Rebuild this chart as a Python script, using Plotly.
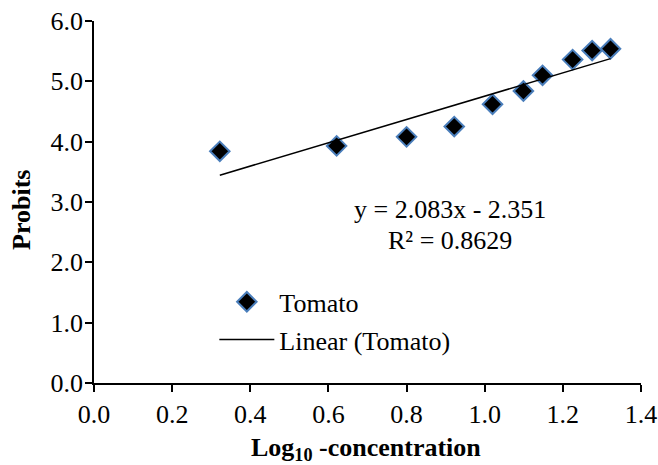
import numpy as np
import plotly.graph_objects as go

# Data
log_conc = [0.322, 0.621, 0.800, 0.922, 1.020, 1.099, 1.148, 1.225, 1.275, 1.322]
probits = [3.84, 3.93, 4.08, 4.25, 4.62, 4.84, 5.10, 5.36, 5.51, 5.54]
x_ticks = [0.0, 0.2, 0.4, 0.6, 0.8, 1.0, 1.2, 1.4]
y_ticks = [0.0, 1.0, 2.0, 3.0, 4.0, 5.0, 6.0]
eq_text = "y = 2.083x - 2.351"
r2_text = "R² = 0.8629"

FONT = "Liberation Serif, Times New Roman, serif"
FS = 26

slope, intercept = np.polyfit(log_conc, probits, 1)
trend_x = [min(log_conc), max(log_conc)]
trend_y = [slope * v + intercept for v in trend_x]

fig = go.Figure()
fig.add_trace(go.Scatter(
    x=log_conc, y=probits, mode="markers", name="Tomato",
    legendgroup="a",
    marker=dict(symbol="diamond", size=15, color="black",
                line=dict(color="#4a7ebb", width=2)),
))
fig.add_trace(go.Scatter(
    x=trend_x, y=trend_y, mode="lines", name="Linear (Tomato)",
    legendgroup="b",
    line=dict(color="black", width=1.5),
))

fig.update_layout(
    width=658, height=465,
    margin=dict(l=94, r=17, t=21, b=82, autoexpand=False),
    paper_bgcolor="white", plot_bgcolor="white",
    font=dict(family=FONT, size=FS, color="black"),
    showlegend=True,
    legend=dict(x=0.22, y=0.289, xanchor="left", yanchor="top",
                bgcolor="rgba(0,0,0,0)", borderwidth=0,
                font=dict(family=FONT, size=FS, color="black"),
                traceorder="grouped", tracegroupgap=1, itemwidth=55),
    xaxis=dict(range=[0, 1.4], tickvals=x_ticks,
               ticktext=[f"{v:.1f}" for v in x_ticks],
               showgrid=False, zeroline=False, showline=True,
               linecolor="black", linewidth=1.5, ticks="outside",
               ticklen=7, tickwidth=1.5, tickcolor="black",
               tickfont=dict(family=FONT, size=FS, color="black")),
    yaxis=dict(range=[0, 6], tickvals=y_ticks,
               ticktext=[f"{v:.1f}" for v in y_ticks],
               showgrid=False, zeroline=False, showline=True,
               linecolor="black", linewidth=1.5, ticks="outside",
               ticklen=7, tickwidth=1.5, tickcolor="black",
               ticklabelstandoff=-3,
               tickfont=dict(family=FONT, size=FS, color="black")),
    annotations=[
        dict(text=eq_text, x=450, y=210, xref="paper", yref="paper",
             showarrow=False, font=dict(family=FONT, size=FS)),
        dict(text=r2_text, x=450, y=240, xref="paper", yref="paper",
             showarrow=False, font=dict(family=FONT, size=FS)),
        dict(text="<b>Log<sub>10</sub> -concentration</b>", x=366, y=449,
             xref="paper", yref="paper", showarrow=False,
             font=dict(family=FONT, size=FS)),
        dict(text="<b>Probits</b>", x=22, y=210, xref="paper", yref="paper",
             textangle=-90, showarrow=False, font=dict(family=FONT, size=FS)),
    ],
)

# convert pixel positions of annotations into paper coordinates
pl, pr, pt, pb = 94, 658 - 17, 21, 465 - 82
for a in fig.layout.annotations:
    a.x = (a.x - pl) / (pr - pl)
    a.y = (pb - a.y) / (pb - pt)
    a.xanchor = "center"
    a.yanchor = "middle"

fig.write_html(
    "out.html",
    config={"responsive": False, "displayModeBar": False},
    post_script="document.body.style.margin='0';document.body.style.overflow='hidden';",
)
